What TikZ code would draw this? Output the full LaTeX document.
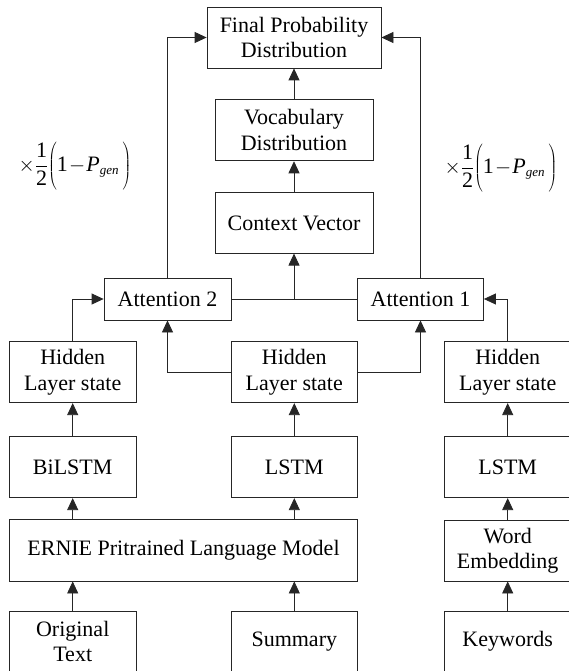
\documentclass[tikz,border=0pt]{standalone}
\usepackage{fontspec}
\setmainfont{Liberation Serif}
\usetikzlibrary{arrows.meta}
\newcommand{\pgenformula}{$\displaystyle\times\frac{\mbox{1}}{\mbox{2}}\!\left(\vphantom{\frac{\mbox{1}}{\mbox{2}}}\mbox{1}\!-\!\mbox{\itshape P}_{\mbox{\fontsize{13}{13}\selectfont\itshape gen}}\,\right)$}
\begin{document}
\begin{tikzpicture}[x=1pt,y=-1pt,
  box/.style={draw=black!85, line width=0.8pt, inner sep=0pt, align=center,
    font=\fontsize{22}{25.5}\selectfont, minimum width=126.7pt, minimum height=61pt},
  arr/.style={draw=black!85, line width=0.8pt, -{Triangle[length=12pt,width=11pt]}},
  ln/.style={draw=black!85, line width=0.8pt},
  lbl/.style={inner sep=0pt, font=\fontsize{22}{25.5}\selectfont}]
\useasboundingbox (0,0) rectangle (568,671);
\fill[white] (0,0) rectangle (568,671);
% nodes
\node[box, minimum width=174pt] (fin) at (294,37.5) {Final Probability\\Distribution};
\node[box, minimum width=158pt, minimum height=61.7pt] (voc) at (294,130) {Vocabulary\\Distribution};
\node[box, minimum width=158pt, minimum height=60.3pt] (ctx) at (294,223) {Context Vector};
\node[box, minimum width=127pt, minimum height=42pt] (att2) at (167.5,299) {Attention 2};
\node[box, minimum width=126pt, minimum height=42pt] (att1) at (420.5,299) {Attention 1};
\node[box] (hl) at (72.7,372.2) {Hidden\\Layer state};
\node[box] (hm) at (294.3,372.2) {Hidden\\Layer state};
\node[box] (hr) at (507.7,372.2) {Hidden\\Layer state};
\node[box] (bil) at (72.7,467.2) {BiLSTM};
\node[box] (lm) at (294.3,467.2) {LSTM};
\node[box] (lr) at (507.7,467.2) {LSTM};
\node[box, minimum width=348.4pt, minimum height=61.5pt] (ern) at (183.5,550.3) {ERNIE Pritrained Language Model};
\node[box] (we) at (507.7,550.5) {Word\\Embedding};
\node[box] (ot) at (72.7,641.5) {Original\\Text};
\node[box] (sum) at (294.3,641.5) {Summary};
\node[box] (kw) at (507.7,641.5) {Keywords};
% labels
\node[lbl] (fl) at (75,166) {\pgenformula};
\node[lbl] (fr) at (501,168) {\pgenformula};
% connectors
\draw[arr] (att2.north) |- (fin.west);
\draw[arr] (att1.north) |- (fin.east);
\draw[arr] (voc) -- (fin);
\draw[arr] (ctx) -- (voc);
\draw[ln] (att2.east) -- (att1.west);
\coordinate (j) at (ctx.south |- att2.east);
\draw[arr] (j) -- (ctx.south);
\draw[arr] (hl.north) |- (att2.west);
\draw[arr] (hr.north) |- (att1.east);
\draw[arr] (hm.west) -| (att2.south);
\draw[arr] (hm.east) -| (att1.south);
\draw[arr] (bil) -- (hl);
\draw[arr] (lm) -- (hm);
\draw[arr] (lr) -- (hr);
\draw[arr] (bil.south |- ern.north) -- (bil.south);
\draw[arr] (lm.south |- ern.north) -- (lm.south);
\draw[arr] (we) -- (lr);
\draw[arr] (ot.north) -- (ot.north |- ern.south);
\draw[arr] (sum.north) -- (sum.north |- ern.south);
\draw[arr] (kw) -- (we);
\end{tikzpicture}
\end{document}
